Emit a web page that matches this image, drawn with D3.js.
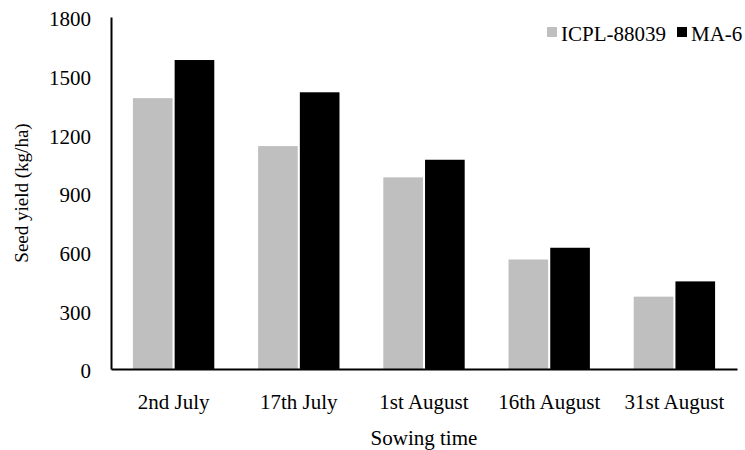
<!DOCTYPE html>
<html><head><meta charset="utf-8">
<script src="https://cdn.jsdelivr.net/npm/d3@7"></script>
<style>body{margin:0;background:#fff}svg{display:block}text{font-family:"Liberation Serif","Times New Roman",serif;fill:#000}</style>
</head><body><svg id="c" width="745" height="450"></svg>
<script>
const categories = ["2nd July","17th July","1st August","16th August","31st August"];
const seriesNames = ["ICPL-88039","MA-6"];
const icpl = [1385,1140,980,560,370];
const ma6 = [1580,1415,1070,620,448];
const yTicks = [0,300,600,900,1200,1500,1800];
const colors = ["#bfbfbf","#000000"];

const svg = d3.select("#c");
const L=111, R=737, T=17, B=369;
const fs = 21;
const font = "Liberation Serif";
const x = d3.scaleBand().domain(categories).range([L,R]).paddingInner(0.35).paddingOuter(0.175);
const x1 = d3.scaleBand().domain(seriesNames).range([0,x.bandwidth()]).paddingInner(0.05);
const y = d3.scaleLinear().domain([0,1800]).range([B,T]);
const data = categories.map((c,i)=>({c, v:[icpl[i],ma6[i]]}));

const g = svg.append("g");
data.forEach(d=>{
  seriesNames.forEach((s,j)=>{
    g.append("rect").attr("x",x(d.c)+x1(s)).attr("width",x1.bandwidth())
     .attr("y",y(d.v[j])).attr("height",B-y(d.v[j])).attr("fill",colors[j]);
  });
});

const ya = d3.axisLeft(y).tickValues(yTicks).tickFormat(d3.format("d")).tickSize(0).tickPadding(20);
svg.append("g").attr("transform",`translate(${L},0)`).call(ya)
  .attr("font-family",font).attr("font-size",fs)
  .call(a=>{a.select(".domain").attr("stroke","#000").attr("stroke-width",2);a.selectAll("text").attr("dy","0.42em");});
const xa = d3.axisBottom(x).tickSize(0).tickPadding(25);
svg.append("g").attr("transform",`translate(0,${B})`).call(xa)
  .attr("font-family",font).attr("font-size",fs)
  .call(a=>{a.select(".domain").attr("stroke","#000").attr("stroke-width",2);});

svg.append("text").attr("transform",`translate(28,${(T+B)/2}) rotate(-90)`).attr("text-anchor","middle")
  .attr("font-family",font).attr("font-size",19).text("Seed yield (kg/ha)");
svg.append("text").attr("x",(L+R)/2).attr("y",445).attr("text-anchor","middle")
  .attr("font-family",font).attr("font-size",fs).text("Sowing time");

const lg = svg.append("g");
const lx=[547,677];
seriesNames.forEach((s,j)=>{
  lg.append("rect").attr("x",lx[j]).attr("y",27).attr("width",10).attr("height",10).attr("fill",colors[j]);
  lg.append("text").attr("x",lx[j]+14).attr("y",41).attr("font-family",font).attr("font-size",fs).text(s);
});
</script></body></html>
